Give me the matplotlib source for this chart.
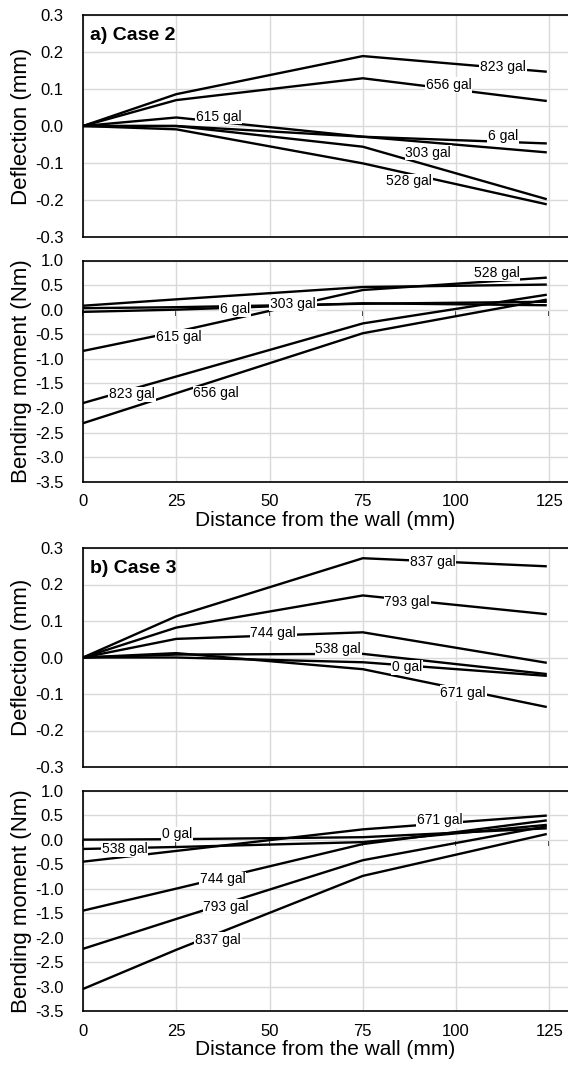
import matplotlib.pyplot as plt

plt.rcParams["font.family"] = ["Liberation Sans", "DejaVu Sans"]
plt.rcParams["axes.unicode_minus"] = False

# positions along the beam (mm)
x = [0, 25, 75, 124]

# a) Case 2
a_defl_names = ["823 gal", "656 gal", "615 gal", "6 gal", "303 gal", "528 gal"]
a_defl = [
    [0, 0.086, 0.189, 0.147],
    [0, 0.070, 0.129, 0.068],
    [0, 0.023, -0.029, -0.071],
    [0, 0.000, -0.029, -0.047],
    [0, 0.000, -0.056, -0.197],
    [0, -0.009, -0.101, -0.211],
]
a_defl_lab = [(112.6, 0.160), (98, 0.111), (36.4, 0.025), (112.6, -0.027), (92.5, -0.072), (87.4, -0.150)]

a_mom_names = ["823 gal", "656 gal", "615 gal", "528 gal", "6 gal", "303 gal"]
a_mom = [
    [-1.90, -1.36, -0.28, 0.30],
    [-2.31, -1.70, -0.48, 0.20],
    [-0.84, -0.45, 0.40, 0.65],
    [0.08, 0.21, 0.46, 0.51],
    [0.03, 0.05, 0.12, 0.16],
    [-0.045, 0.00, 0.13, 0.09],
]
a_mom_lab = [(13.1, -1.72), (35.7, -1.70), (25.7, -0.55), (110.9, 0.74), (40.8, 0.015), (56.3, 0.12)]

# b) Case 3
b_defl_names = ["837 gal", "793 gal", "744 gal", "538 gal", "0 gal", "671 gal"]
b_defl = [
    [0, 0.113, 0.272, 0.250],
    [0, 0.082, 0.170, 0.119],
    [0, 0.051, 0.069, -0.014],
    [0, 0.008, 0.010, -0.045],
    [0, 0.000, -0.013, -0.050],
    [0, 0.012, -0.032, -0.135],
]
b_defl_lab = [(93.7, 0.263), (86.9, 0.151), (51, 0.067), (68.4, 0.024), (86.9, -0.027), (101.9, -0.097)]

b_mom_names = ["837 gal", "793 gal", "744 gal", "671 gal", "0 gal", "538 gal"]
b_mom = [
    [-3.05, -2.25, -0.74, 0.11],
    [-2.23, -1.62, -0.42, 0.27],
    [-1.45, -1.00, -0.09, 0.39],
    [-0.45, -0.23, 0.21, 0.49],
    [0.00, 0.01, 0.05, 0.23],
    [-0.19, -0.15, -0.05, 0.30],
]
b_mom_lab = [(36.2, -2.05), (38.4, -1.37), (37.4, -0.81), (95.6, 0.40), (25.2, 0.11), (11.2, -0.19)]

defl_ticks = [-0.3, -0.2, -0.1, 0.0, 0.1, 0.2, 0.3]
mom_ticks = [-3.5, -3.0, -2.5, -2.0, -1.5, -1.0, -0.5, 0.0, 0.5, 1.0]
x_ticks = [0, 25, 50, 75, 100, 125]

fig = plt.figure(figsize=(5.68, 10.68), dpi=100)

left = 83 / 568
width = 1 - left
H = 1068


def make_ax(top, bottom):
    ax = fig.add_axes([left, 1 - bottom / H, width, (bottom - top) / H])
    ax.set_xlim(0, 130)
    ax.grid(True, color="#d9d9d9", lw=1)
    ax.set_axisbelow(True)
    ax.spines["right"].set_visible(False)
    for s in ["left", "top", "bottom"]:
        ax.spines[s].set_color("black")
        ax.spines[s].set_linewidth(1.2)
    ax.set_xticks(x_ticks)
    ax.tick_params(length=0, labelsize=12, pad=14)
    ax.tick_params(axis="x", pad=9)
    return ax


def draw(ax, data, names, labpos):
    for ys, name, (lx, ly) in zip(data, names, labpos):
        ax.plot(x, ys, color="black", lw=1.7)
        ax.text(lx, ly, name, fontsize=10, ha="center", va="center", zorder=5,
                bbox=dict(facecolor="white", edgecolor="none", pad=0.5))


def defl_panel(top, bottom, data, names, labpos, title):
    ax = make_ax(top, bottom)
    ax.set_ylim(-0.3, 0.3)
    ax.set_yticks(defl_ticks)
    ax.set_yticklabels([f"{t:.1f}" for t in defl_ticks])
    ax.tick_params(axis="x", labelbottom=False)
    ax.set_ylabel("Deflection (mm)", fontsize=16, labelpad=2)
    ax.text(2, 0.268, title, fontsize=14, fontweight="bold", ha="left", va="top")
    draw(ax, data, names, labpos)
    return ax


def mom_panel(top, bottom, data, names, labpos):
    ax = make_ax(top, bottom)
    ax.set_ylim(-3.5, 1.0)
    ax.set_yticks(mom_ticks)
    ax.set_yticklabels([f"{t:.1f}" for t in mom_ticks])
    ax.set_ylabel("Bending moment (Nm)", fontsize=16, labelpad=2)
    ax.set_xlabel("Distance from the wall (mm)", fontsize=15, labelpad=1)
    # horizontal axis crossing at zero
    zero_frac = (0 - (-3.5)) / (1.0 - (-3.5))
    sec = ax.secondary_xaxis(zero_frac)
    sec.set_xticks(x_ticks)
    sec.tick_params(direction="out", length=4, width=1.2, labelbottom=False, labeltop=False,
                    bottom=True, top=False)
    sec.spines["bottom"].set_linewidth(1.2)
    sec.spines["top"].set_visible(False)
    draw(ax, data, names, labpos)
    return ax


defl_panel(15, 237, a_defl, a_defl_names, a_defl_lab, "a) Case 2")
mom_panel(260.5, 481.7, a_mom, a_mom_names, a_mom_lab)
defl_panel(548, 767, b_defl, b_defl_names, b_defl_lab, "b) Case 3")
mom_panel(790.7, 1011, b_mom, b_mom_names, b_mom_lab)

fig.savefig("out.png", dpi=100)
